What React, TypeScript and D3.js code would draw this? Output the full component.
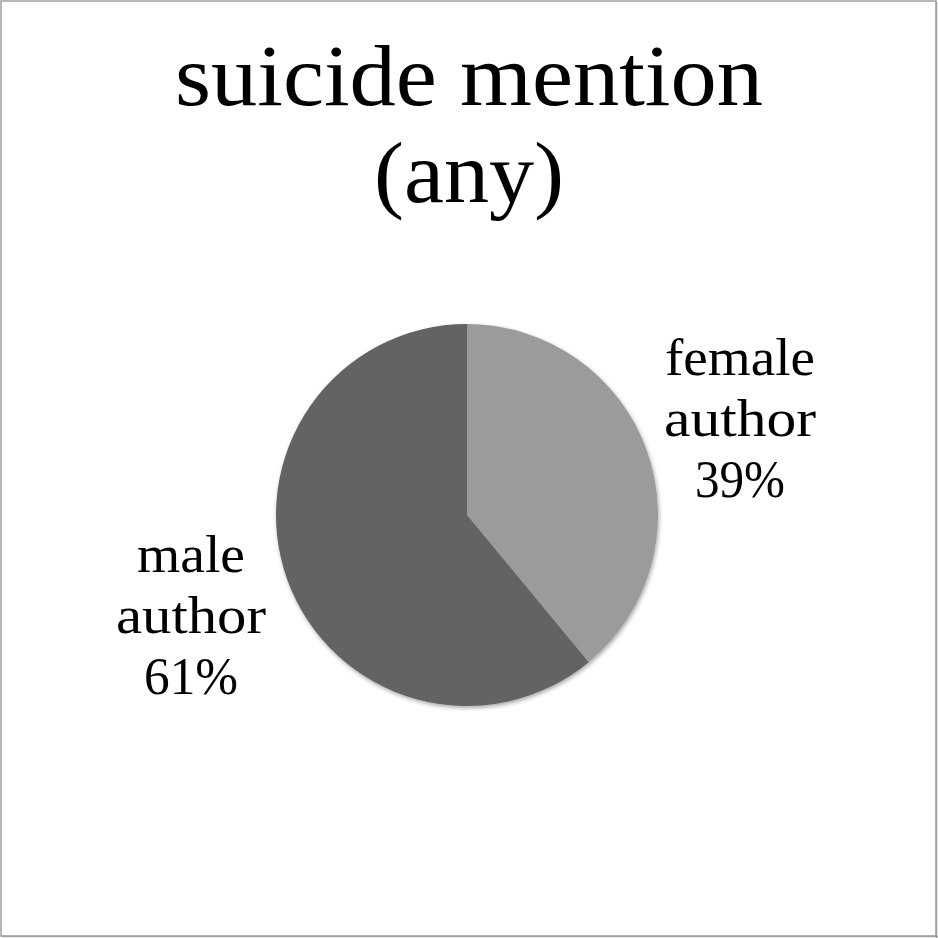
import React from "react";
import * as d3 from "d3";

const categories = ["female author", "male author"];
const values = [39, 61];
const colors = ["#9b9b9b", "#636363"];
const titleLines = ["suicide mention", "(any)"];
const labelLines = [
  ["female", "author", "39%"],
  ["male", "author", "61%"],
];

const W = 938;
const H = 938;
const cx = 467;
const cy = 515;
const R = 191;

const titleWidths = [588, 190];
const labelWidths = [
  [150, 152, 90],
  [108, 150, 94],
];

export default function App() {
  const pie = d3.pie<number>().sort(null).value((d) => d);
  const arcs = pie(values);
  const arc = d3.arc<d3.PieArcDatum<number>>().innerRadius(0).outerRadius(R);
  const labelPos = [
    { x: 740, y: 375 },
    { x: 191, y: 572 },
  ];
  const font = "'Liberation Serif', 'Times New Roman', serif";
  return (
    <svg
      width={W}
      height={H}
      style={{ position: "fixed", top: 0, left: 0, background: "#fff" }}
    >
      <defs>
        <filter id="sh" x="-20%" y="-20%" width="140%" height="140%">
          <feGaussianBlur in="SourceAlpha" stdDeviation="2" />
          <feOffset dx="1" dy="2" result="b" />
          <feComponentTransfer>
            <feFuncA type="linear" slope="0.35" />
          </feComponentTransfer>
          <feMerge>
            <feMergeNode />
            <feMergeNode in="SourceGraphic" />
          </feMerge>
        </filter>
      </defs>
      <rect x={1} y={1} width={W - 3} height={H - 3} fill="#fff" stroke="#a0a0a0" strokeWidth={1.5} />
      <line x1={W - 1.5} y1={2} x2={W - 1.5} y2={H} stroke="#a0a0a0" strokeWidth={1.5} />
      <line x1={2} y1={H - 1.5} x2={W} y2={H - 1.5} stroke="#a0a0a0" strokeWidth={1.5} />
      {titleLines.map((t, i) => (
        <text
          key={t}
          x={469}
          y={105 + i * 97}
          textAnchor="middle"
          fontFamily={font}
          fontSize={87}
          textLength={titleWidths[i]}
          lengthAdjust="spacingAndGlyphs"
          fill="#000"
        >
          {t}
        </text>
      ))}
      <g transform={`translate(${cx},${cy})`} filter="url(#sh)">
        {arcs.map((a, i) => (
          <path key={categories[i]} d={arc(a) || ""} fill={colors[i]} />
        ))}
      </g>
      {labelLines.map((lines, i) =>
        lines.map((l, j) => (
          <text
            key={`${i}-${j}`}
            x={labelPos[i].x}
            y={labelPos[i].y + j * 61}
            textAnchor="middle"
            fontFamily={font}
            fontSize={52}
            textLength={labelWidths[i][j]}
            lengthAdjust="spacingAndGlyphs"
            fill="#000"
          >
            {l}
          </text>
        ))
      )}
    </svg>
  );
}
